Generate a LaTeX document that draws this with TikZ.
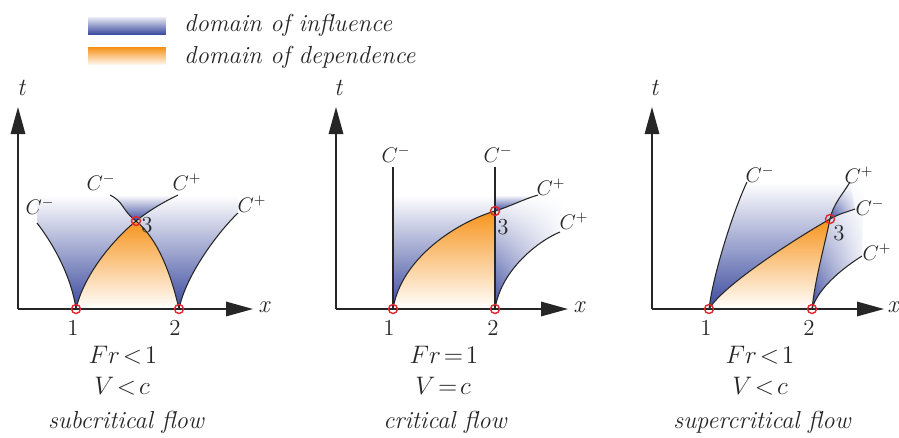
\documentclass[tikz,border=0pt]{standalone}
\usepackage{tikz}
\usetikzlibrary{arrows.meta, fadings}
\usepackage{amsmath}
\definecolor{Influence}{HTML}{3B4A9E}
\definecolor{Dependence}{HTML}{F7941D}
\definecolor{Ink}{HTML}{262626}
\definecolor{Marker}{HTML}{E5262E}
\tikzfading[name=fade right, left color=transparent!0, right color=transparent!90]

\begin{document}
\begin{tikzpicture}[x=0.02cm, y=-0.02cm,
    every node/.style={font=\fontsize{14}{16}\selectfont, text=Ink},
    axis/.style={line width=0.9pt, draw=Ink, -{Triangle[length=5.4mm, width=2.9mm]}},
    charline/.style={line width=0.6pt, draw=Ink},
    pnt/.style={circle, draw=Marker, line width=0.8pt, minimum size=0.18cm, inner sep=0pt},
    clab/.style={font=\fontsize{12}{14}\selectfont},
    numlab/.style={font=\fontsize{13}{15}\selectfont},
    axlab/.style={font=\fontsize{14}{16}\selectfont\itshape},
    infl/.style={top color=white, bottom color=Influence},
    dep/.style={top color=Dependence, bottom color=white},
    swatch/.style={minimum width=1.56cm, minimum height=0.33cm, inner sep=0pt},
]
\useasboundingbox (0,0) rectangle (899,437);

% =============================================
% LEGEND
% =============================================
\node[swatch, top color=Influence!15, bottom color=Influence] (swInfl) at (127,26) {};
\node[swatch, top color=Dependence, bottom color=Dependence!8] (swDep) at (127,56) {};
\node[anchor=west] (txInfl) at (178,25) {\itshape domain of influence};
\node[anchor=west] (txDep) at (178,57) {\itshape domain of dependence};

% =============================================
% SUBCRITICAL
% =============================================
\coordinate (sO) at (18,309);
\coordinate (sT) at (18,107);
\coordinate (sX) at (253,309);
\coordinate (s1) at (76,309);
\coordinate (s2) at (179,309);
\coordinate (s3) at (136,221);
\coordinate (sL) at (37,223);
\coordinate (sA) at (178,195);
\coordinate (sB) at (110,195);
\coordinate (sR) at (238,213);

% shaded domains
\shade[infl] (s1) .. controls (71,274) and (51,241) .. (sL) -- (37,195) -- (sA)
    .. controls (164,202) and (151,209) .. (s3) .. controls (114,239) and (84,274) .. (s1) -- cycle;
\shade[infl] (s2) .. controls (171,274) and (158,239) .. (s3) .. controls (121,209) and (124,202) .. (sB)
    -- (238,195) -- (sR) .. controls (220,230) and (186,274) .. (s2) -- cycle;
\shade[infl] (s3) .. controls (121,209) and (124,202) .. (sB) -- (sA)
    .. controls (164,202) and (151,209) .. (s3) -- cycle;
\shade[dep] (s1) .. controls (84,274) and (114,239) .. (s3) .. controls (158,239) and (171,274) .. (s2) -- cycle;

% characteristics
\draw[charline] (s1) .. controls (71,274) and (51,241) .. (sL);
\draw[charline] (s1) .. controls (84,274) and (114,239) .. (s3) .. controls (151,209) and (164,202) .. (sA);
\draw[charline] (s2) .. controls (171,274) and (158,239) .. (s3) .. controls (121,209) and (124,202) .. (sB);
\draw[charline] (s2) .. controls (186,274) and (220,230) .. (sR);

\draw[axis] (sO) -- (sT);
\draw[axis] (sO) -- (sX);
\node[axlab] (sTlab) at (21,88) {t};
\node[axlab] (sXlab) at (264,307) {x};

\node[clab] (sCa) at (40,206) {$C^-$};
\node[clab] (sCb) at (101,182) {$C^-$};
\node[clab] (sCc) at (187,182) {$C^+$};
\node[clab] (sCd) at (252,204) {$C^+$};

\node[pnt] (sP1) at (s1) {};
\node[pnt] (sP2) at (s2) {};
\node[pnt] (sP3) at (s3) {};
\node[numlab] (sN1) at (73,328) {1};
\node[numlab] (sN2) at (175,328) {2};
\node[numlab] (sN3) at (147,225) {3};

\node (sFr) at (123,355) {$Fr\!<\!1$};
\node (sV) at (122,386) {$V\!<\!c$};
\node (sName) at (126,422) {\itshape subcritical flow};

% =============================================
% CRITICAL
% =============================================
\coordinate (cO) at (336,309);
\coordinate (cT) at (336,107);
\coordinate (cX) at (568,309);
\coordinate (c1) at (393,309);
\coordinate (c2) at (495,309);
\coordinate (c3) at (495,211);
\coordinate (cT1) at (393,167);
\coordinate (cT2) at (495,167);
\coordinate (cA) at (538,195);
\coordinate (cR) at (560,232);

% shaded domains
\shade[infl] (c1) -- (393,195) -- (cA) .. controls (524,199) and (510,206.5) .. (c3)
    .. controls (455,223) and (401,259) .. (c1) -- cycle;
\shade[infl, path fading=fade right] (c2) -- (495,195) -- (562,195) -- (cR)
    .. controls (540,240) and (501,269) .. (c2) -- cycle;
\shade[infl] (c3) -- (495,195) -- (cA) .. controls (524,199) and (510,206.5) .. (c3) -- cycle;
\shade[dep] (c1) .. controls (401,259) and (455,223) .. (c3) -- (c2) -- cycle;

% characteristics
\draw[charline] (c1) -- (cT1);
\draw[charline] (c2) -- (cT2);
\draw[charline] (c1) .. controls (401,259) and (455,223) .. (c3) .. controls (510,206.5) and (524,199) .. (cA);
\draw[charline] (c2) .. controls (501,269) and (540,240) .. (cR);

\draw[axis] (cO) -- (cT);
\draw[axis] (cO) -- (cX);
\node[axlab] (cTlab) at (338,88) {t};
\node[axlab] (cXlab) at (579,307) {x};

\node[clab] (cCa) at (396,154) {$C^-$};
\node[clab] (cCb) at (498,154) {$C^-$};
\node[clab] (cCc) at (551,187) {$C^+$};
\node[clab] (cCd) at (574,221) {$C^+$};

\node[pnt] (cP1) at (c1) {};
\node[pnt] (cP2) at (c2) {};
\node[pnt] (cP3) at (c3) {};
\node[numlab] (cN1) at (389,328) {1};
\node[numlab] (cN2) at (493,328) {2};
\node[numlab] (cN3) at (503,227) {3};

\node (cFr) at (444,355) {$Fr\!=\!1$};
\node (cV) at (443,386) {$V\!=\!c$};
\node (cName) at (445,422) {\itshape critical flow};

% =============================================
% SUPERCRITICAL
% =============================================
\coordinate (uO) at (652,309);
\coordinate (uT) at (652,107);
\coordinate (uX) at (884,309);
\coordinate (u1) at (709,309);
\coordinate (u2) at (812,309);
\coordinate (u3) at (830,219);
\coordinate (uL) at (747,182);
\coordinate (uA) at (855,209);
\coordinate (uB) at (850,182);
\coordinate (uR) at (862,256);

% shaded domains
\shade[infl] (u1) .. controls (713,274) and (734,209) .. (uL) -- (uB)
    .. controls (843,194) and (833,204) .. (u3) .. controls (800,236) and (724,284) .. (u1) -- cycle;
\shade[infl, path fading=fade right] (u2) .. controls (815,279) and (825,244) .. (u3)
    .. controls (833,204) and (843,194) .. (uB) -- (864,182) -- (uR)
    .. controls (846,266) and (818,287) .. (u2) -- cycle;
\shade[infl, path fading=fade right] (u3) .. controls (833,204) and (843,194) .. (uB) -- (uA)
    .. controls (847,212) and (840,213.3) .. (u3) -- cycle;
\shade[dep] (u1) .. controls (724,284) and (800,236) .. (u3) .. controls (825,244) and (815,279) .. (u2) -- cycle;

% characteristics
\draw[charline] (u1) .. controls (713,274) and (734,209) .. (uL);
\draw[charline] (u1) .. controls (724,284) and (800,236) .. (u3) .. controls (840,213.3) and (847,212) .. (uA);
\draw[charline] (u2) .. controls (815,279) and (825,244) .. (u3) .. controls (833,204) and (843,194) .. (uB);
\draw[charline] (u2) .. controls (818,287) and (846,266) .. (uR);

\draw[axis] (uO) -- (uT);
\draw[axis] (uO) -- (uX);
\node[axlab] (uTlab) at (654,88) {t};
\node[axlab] (uXlab) at (893,307) {x};

\node[clab] (uCa) at (760,174) {$C^-$};
\node[clab] (uCb) at (859,175) {$C^+$};
\node[clab] (uCc) at (870,207) {$C^-$};
\node[clab] (uCd) at (877,252) {$C^+$};

\node[pnt] (uP1) at (u1) {};
\node[pnt] (uP2) at (u2) {};
\node[pnt] (uP3) at (u3) {};
\node[numlab] (uN1) at (706,328) {1};
\node[numlab] (uN2) at (809,328) {2};
\node[numlab] (uN3) at (839,233) {3};

\node (uFr) at (760,355) {$Fr\!<\!1$};
\node (uV) at (760,386) {$V\!<\!c$};
\node (uName) at (762,422) {\itshape supercritical flow};

\end{tikzpicture}
\end{document}
